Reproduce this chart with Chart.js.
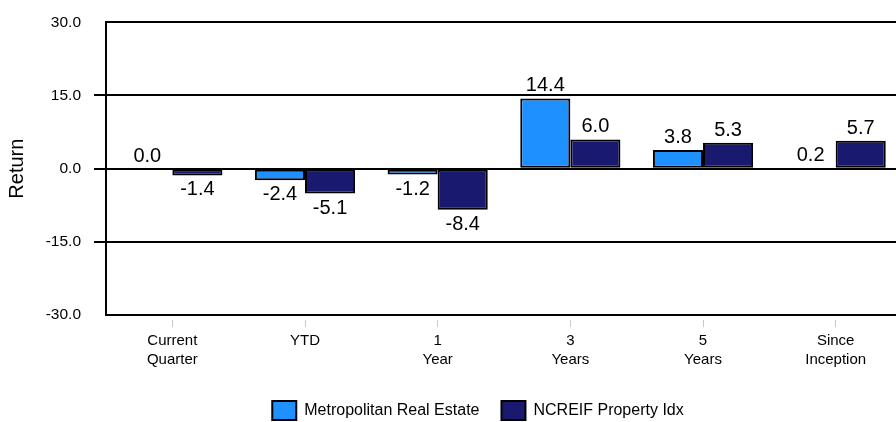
<!DOCTYPE html>
<html>
<head>
<meta charset="utf-8">
<script src="https://cdn.jsdelivr.net/npm/chart.js@4.4.1/dist/chart.umd.min.js"></script>
<style>
  html, body { margin: 0; padding: 0; background: #fff; width: 896px; height: 422px; overflow: hidden; }
  canvas { display: block; }
</style>
</head>
<body>
<canvas id="returns" width="956" height="430"></canvas>
<script>
// Periods shown along the bottom axis (each entry is one or two label lines)
const categories = [
  ['Current', 'Quarter'],
  ['YTD'],
  ['1', 'Year'],
  ['3', 'Years'],
  ['5', 'Years'],
  ['Since', 'Inception']
];
// Annualised returns, percent
const metroReturns  = [0.0, -2.4, -1.2, 14.4, 3.8, 0.2];
const ncreifReturns = [-1.4, -5.1, -8.4, 6.0, 5.3, 5.7];
const seriesNames = ['Metropolitan Real Estate', 'NCREIF Property Idx'];
// Value axis
const yMin = -30, yMax = 30, yStep = 15;

const FONT = "'Liberation Sans', Arial, Helvetica, sans-serif";
Chart.defaults.font.family = FONT;
Chart.defaults.color = '#000';

// Writes each bar's value above (positive) or below (negative) the bar
const valueLabels = {
  id: 'valueLabels',
  afterDatasetsDraw(chart) {
    const ctx = chart.ctx;
    ctx.save();
    ctx.font = '20px ' + FONT;
    ctx.fillStyle = '#000';
    ctx.textAlign = 'center';
    ctx.textBaseline = 'alphabetic';
    chart.data.datasets.forEach((ds, di) => {
      const meta = chart.getDatasetMeta(di);
      meta.data.forEach((bar, i) => {
        const v = ds.data[i];
        const y = v >= 0 ? bar.y - 7 : bar.y + 20;
        ctx.fillText(v.toFixed(1), bar.x, y);
      });
    });
    ctx.restore();
  }
};

new Chart(document.getElementById('returns'), {
  type: 'bar',
  data: {
    labels: categories,
    datasets: [
      {
        label: seriesNames[0],
        data: metroReturns,
        backgroundColor: '#1E90FF',
        borderColor: '#000',
        borderWidth: 2,
        borderSkipped: false
      },
      {
        label: seriesNames[1],
        data: ncreifReturns,
        backgroundColor: '#191970',
        borderColor: '#000',
        borderWidth: 2,
        borderSkipped: false
      }
    ]
  },
  options: {
    responsive: false,
    animation: false,
    devicePixelRatio: 1,
    layout: { padding: { top: 19, left: 0, right: 0, bottom: 0 } },
    datasets: { bar: { categoryPercentage: 0.755, barPercentage: 1.0 } },
    plugins: {
      tooltip: { enabled: false },
      legend: {
        position: 'bottom',
        labels: {
          boxWidth: 24,
          boxHeight: 19,
          padding: 22,
          font: { size: 16 },
          color: '#000'
        }
      }
    },
    scales: {
      x: {
        grid: {
          drawOnChartArea: false,
          offset: false,
          tickLength: 12,
          color: '#c8c8c8',
          lineWidth: 1,
          tickBorderDash: [0, 4, 8, 100]
        },
        border: { display: true, color: '#000', width: 2 },
        ticks: {
          font: { size: 15, lineHeight: 1.3 },
          padding: 4,
          maxRotation: 0,
          autoSkip: false
        },
        afterFit(scale) { scale.height = 64; }
      },
      y: {
        min: yMin,
        max: yMax,
        grid: {
          color: '#000',
          lineWidth: 2,
          tickLength: 12,
          tickColor: (c) => (c.tick && (c.tick.value === yMax || c.tick.value === yMin)) ? 'rgba(0,0,0,0)' : '#000'
        },
        border: { display: true, color: '#000', width: 2 },
        ticks: {
          stepSize: yStep,
          padding: 13,
          font: { size: 15.5 },
          callback: (v) => Number(v).toFixed(1)
        },
        title: {
          display: true,
          text: 'Return',
          font: { size: 20 },
          padding: { top: 5, bottom: 0 }
        },
        afterFit(scale) { scale.width = 106; }
      },
      // empty right-hand gutter so the plot runs past the visible edge
      gutter: {
        position: 'right',
        display: true,
        grid: { display: false },
        ticks: { display: false },
        border: { display: false },
        afterFit(scale) { scale.width = 54; }
      }
    }
  },
  plugins: [valueLabels]
});
</script>
</body>
</html>
